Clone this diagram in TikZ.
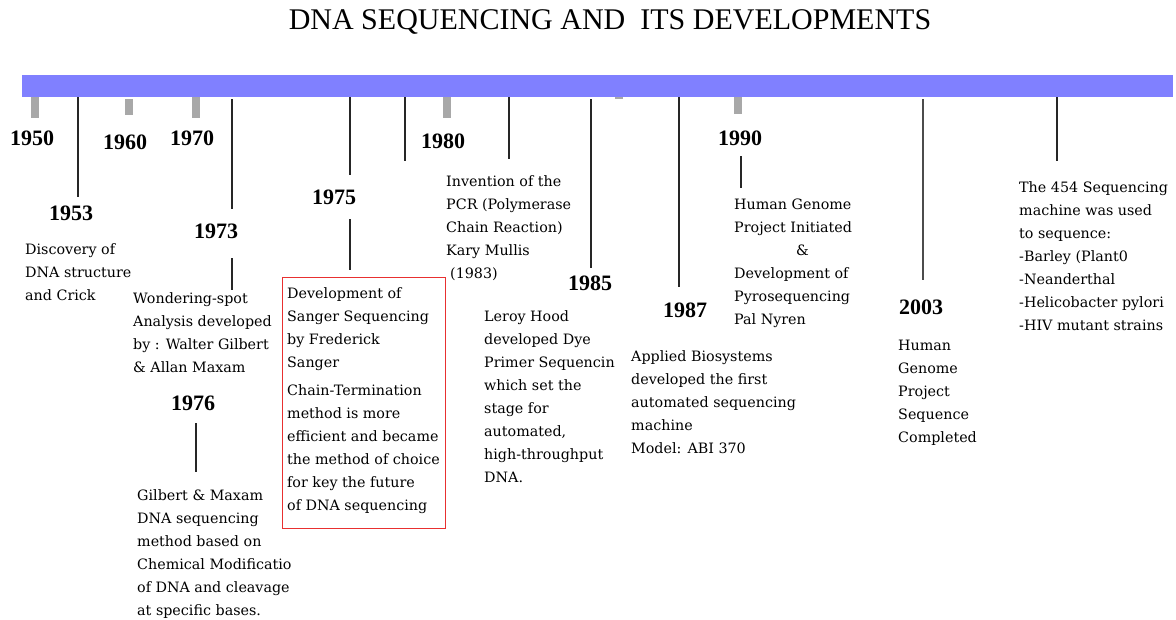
\documentclass[tikz,border=0pt]{standalone}
\usepackage{fontspec}
\setmainfont{DejaVu Serif}
\newfontfamily\timesfont{Liberation Serif}
\definecolor{barblue}{RGB}{128,128,255}
\definecolor{tickgray}{RGB}{168,168,168}
\definecolor{boxred}{RGB}{232,48,48}

\begin{document}
\begin{tikzpicture}[x=1pt,y=-1pt,
  year/.style={font=\timesfont\bfseries\fontsize{22}{22}\selectfont, inner sep=0pt},
  note/.style={font=\fontsize{14.3}{23}\selectfont, align=left, anchor=north west, inner sep=0pt},
  stem/.style={draw=black!85, line width=1.4pt},
  yeartick/.style={fill=tickgray, draw=none},
]
\useasboundingbox (0,0) rectangle (1176,619);
\fill[white] (0,0) rectangle (1176,619);

% title
\node[font=\timesfont\fontsize{30}{30}\selectfont, inner sep=0pt] (title) at (610,22)
  {DNA SEQUENCING AND\ \ ITS DEVELOPMENTS};

% time bar
\node[fill=barblue, minimum width=1151pt, minimum height=22pt, inner sep=0pt,
      anchor=north west] (bar) at (22,75) {};

% decade ticks
\fill[yeartick] (31,97) rectangle (39,118);
\fill[yeartick] (125,99) rectangle (133,115);
\fill[yeartick] (192,97) rectangle (200,118);
\fill[yeartick] (443,97) rectangle (451,118);
\fill[yeartick] (615,97) rectangle (623,99);
\fill[yeartick] (734,97) rectangle (742,114);

% years
\node[year] (y1950) at (32,138) {1950};
\node[year] (y1960) at (125,142) {1960};
\node[year] (y1970) at (192,138) {1970};
\node[year] (y1980) at (443,141) {1980};
\node[year] (y1990) at (740,138) {1990};
\node[year] (y1953) at (71,213) {1953};
\node[year] (y1973) at (216,231) {1973};
\node[year] (y1975) at (334,197) {1975};
\node[year] (y1976) at (193,403) {1976};
\node[year] (y1985) at (590,283) {1985};
\node[year] (y1987) at (685,310) {1987};
\node[year] (y2003) at (921,307) {2003};

% stem end points
\coordinate (a53) at (78,97);    \coordinate (b53) at (78,197);
\coordinate (a73) at (232,99);   \coordinate (b73) at (232,209);
\coordinate (c73) at (232,258);  \coordinate (d73) at (232,290);
\coordinate (a75) at (350,97);   \coordinate (b75) at (350,175);
\coordinate (c75) at (350,219);  \coordinate (d75) at (350,270);
\coordinate (a77) at (405,97);   \coordinate (b77) at (405,161);
\coordinate (a83) at (509,97);   \coordinate (b83) at (509,159);
\coordinate (a85) at (591,99);   \coordinate (b85) at (591,268);
\coordinate (a87) at (679,97);   \coordinate (b87) at (679,287);
\coordinate (a90) at (741,156);  \coordinate (b90) at (741,188);
\coordinate (a03) at (923,99);   \coordinate (b03) at (923,280);
\coordinate (a05) at (1057,97);  \coordinate (b05) at (1057,161);
\coordinate (a76) at (196,423);  \coordinate (b76) at (196,472);

\draw[stem] (a53) -- (b53);
\draw[stem] (a73) -- (b73);
\draw[stem] (c73) -- (d73);
\draw[stem] (a75) -- (b75);
\draw[stem] (c75) -- (d75);
\draw[stem] (a77) -- (b77);
\draw[stem] (a83) -- (b83);
\draw[stem] (a85) -- (b85);
\draw[stem] (a87) -- (b87);
\draw[stem] (a90) -- (b90);
\draw[stem,draw=black!70] (a03) -- (b03);
\draw[stem] (a05) -- (b05);
\draw[stem] (a76) -- (b76);

% event notes
\node[note] (n1953) at (25,243) {Discovery of\\DNA structure\\and Crick};
\node[note] (n1973) at (133,292) {Wondering-spot\\Analysis developed\\by : Walter Gilbert\\\& Allan Maxam};
\begin{scope}
  \clip (130,480) rectangle (292,619);
  \node[note] (n1976) at (137,489) {Gilbert \& Maxam\\DNA sequencing\\method based on\\Chemical Modificatio\\of DNA and cleavage\\at specific bases.};
\end{scope}

\node[draw=boxred, line width=1pt, minimum width=163pt, minimum height=251pt,
      inner sep=0pt, anchor=north west] (sangerbox) at (282,277) {};
\node[note] (n1975) at (287,287) {Development of\\Sanger Sequencing\\by Frederick\\Sanger\\[5pt]Chain-Termination\\method is more\\efficient and became\\the method of choice\\for key the future\\of DNA sequencing};

\node[note] (n1983) at (446,175) {Invention of the\\PCR (Polymerase\\Chain Reaction)\\Kary Mullis\\\hspace*{4pt}(1983)};
\node[note] (n1985) at (484,310) {Leroy Hood\\developed Dye\\Primer Sequencin\\which set the\\stage for\\automated,\\high-throughput\\DNA.};
\node[note] (n1987) at (631,350) {Applied Biosystems\\developed the first\\automated sequencing\\machine\\Model: ABI 370};
\node[note] (n1990) at (734,199) {Human Genome\\Project Initiated\\\hspace*{62pt}\&\\Development of\\Pyrosequencing\\Pal Nyren};
\node[note] (n2003) at (898,340) {Human\\Genome\\Project\\Sequence\\Completed};
\node[note] (n2005) at (1019,181) {The 454 Sequencing\\machine was used\\to sequence:\\-Barley (Plant0\\-Neanderthal\\-Helicobacter pylori\\-HIV mutant strains};
\end{tikzpicture}
\end{document}
